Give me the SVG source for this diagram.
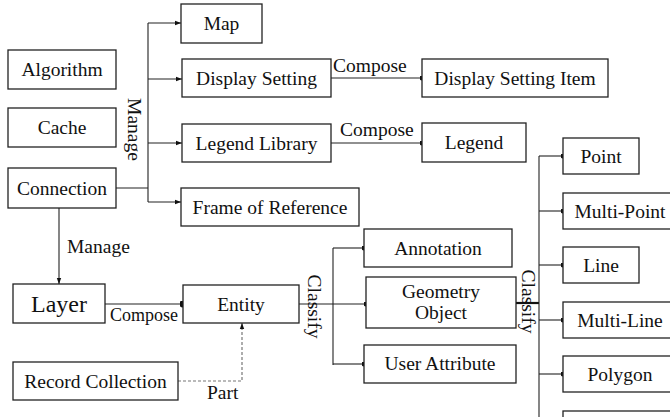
<svg xmlns="http://www.w3.org/2000/svg" width="670" height="417" viewBox="0 0 670 417">
<defs>
<style>
.box{fill:#fff;stroke:#222;stroke-width:1.3}
.t{font-family:"Liberation Serif","Times New Roman",serif;font-size:19.5px;fill:#111;text-anchor:middle}
.l{font-family:"Liberation Serif","Times New Roman",serif;font-size:19.5px;fill:#111}
.c{fill:none;stroke:#222;stroke-width:1.1}
.d{fill:none;stroke:#777;stroke-width:1.2;stroke-dasharray:3 2}
</style>
<marker id="arr" viewBox="0 0 6 6" refX="6" refY="3" markerWidth="6" markerHeight="6" markerUnits="userSpaceOnUse" orient="auto"><path d="M0,0.8 L6,3 L0,5.2 Z" fill="#111"/></marker>
<marker id="dot" viewBox="0 0 6 6" refX="3" refY="3" markerWidth="5" markerHeight="5" markerUnits="userSpaceOnUse"><circle cx="3" cy="3" r="3" fill="#111"/></marker>
<marker id="bdot" viewBox="0 0 6 6" refX="3" refY="3" markerWidth="7" markerHeight="7" markerUnits="userSpaceOnUse"><circle cx="3" cy="3" r="3" fill="#111"/></marker>
</defs>
<g id="connectors">
<path class="c" d="M116,188 H148 M148,23 V202"/>
<path class="c" d="M148,23 H181" marker-end="url(#arr)"/>
<path class="c" d="M148,79 H182" marker-end="url(#arr)"/>
<path class="c" d="M148,143 H182" marker-end="url(#arr)"/>
<path class="c" d="M148,202 H181" marker-end="url(#arr)"/>
<path class="c" d="M59,208 V284" marker-end="url(#arr)"/>
<path class="c" d="M331,78 H422" marker-end="url(#dot)"/>
<path class="c" d="M331,143 H422" marker-end="url(#dot)"/>
<path class="c" d="M105,304 H183" marker-end="url(#bdot)"/>
<path class="d" d="M178,381 H242 V323" marker-end="url(#arr)"/>
<path class="c" d="M299,304 H366" marker-end="url(#dot)"/>
<path class="c" d="M333,248 V365"/>
<path class="c" d="M333,248 H364" marker-end="url(#dot)"/>
<path class="c" d="M333,364 H364" marker-end="url(#dot)"/>
<path d="M516,303 H539" fill="none" stroke="#111" stroke-width="2.2"/>
<path class="c" d="M539,156 V417"/>
<path class="c" d="M539,156 H563" marker-end="url(#dot)"/>
<path class="c" d="M539,211 H563" marker-end="url(#dot)"/>
<path class="c" d="M539,265 H563" marker-end="url(#dot)"/>
<path class="c" d="M539,320 H563" marker-end="url(#dot)"/>
<path class="c" d="M539,374 H563" marker-end="url(#dot)"/>
<text class="l" transform="translate(128,129.5) rotate(90)" text-anchor="middle">Manage</text>
<text class="l" x="67" y="253">Manage</text>
<text class="l" x="333" y="72">Compose</text>
<text class="l" x="340" y="136">Compose</text>
<text class="l" x="110" y="321" style="font-size:18px">Compose</text>
<text class="l" x="207" y="399">Part</text>
<text class="l" transform="translate(308,306.5) rotate(90)" text-anchor="middle">Classify</text>
<text class="l" transform="translate(522,301.5) rotate(90)" text-anchor="middle">Classify</text>
</g>
<g id="algorithm"><rect class="box" x="8" y="50" width="108" height="39"/><text class="t" x="62" y="76">Algorithm</text></g>
<g id="cache"><rect class="box" x="8" y="108" width="108" height="39"/><text class="t" x="62" y="134">Cache</text></g>
<g id="connection"><rect class="box" x="8" y="168" width="108" height="40"/><text class="t" x="62" y="194.5">Connection</text></g>
<g id="map"><rect class="box" x="181" y="4" width="81" height="39"/><text class="t" x="221.5" y="30">Map</text></g>
<g id="display-setting"><rect class="box" x="182" y="59" width="149" height="38"/><text class="t" x="256.5" y="85">Display Setting</text></g>
<g id="legend-library"><rect class="box" x="182" y="124" width="149" height="38"/><text class="t" x="256.5" y="149.5">Legend Library</text></g>
<g id="frame-of-reference"><rect class="box" x="181" y="188" width="178" height="38"/><text class="t" x="270" y="213.5">Frame of Reference</text></g>
<g id="display-setting-item"><rect class="box" x="422" y="59" width="186" height="38"/><text class="t" x="515" y="85">Display Setting Item</text></g>
<g id="legend"><rect class="box" x="422" y="123" width="104" height="39"/><text class="t" x="474" y="149">Legend</text></g>
<g id="layer"><rect class="box" x="13" y="284" width="92" height="39"/><text class="t" x="59" y="312" style="font-size:24px">Layer</text></g>
<g id="entity"><rect class="box" x="183" y="285" width="116" height="38"/><text class="t" x="241" y="311">Entity</text></g>
<g id="record-collection"><rect class="box" x="13" y="362" width="165" height="38"/><text class="t" x="95.5" y="388">Record Collection</text></g>
<g id="annotation"><rect class="box" x="364" y="229" width="148" height="38"/><text class="t" x="438" y="254.5">Annotation</text></g>
<g id="geometry-object"><rect class="box" x="366" y="277" width="150" height="51"/><text class="t" x="441" y="298">Geometry</text><text class="t" x="441" y="319">Object</text></g>
<g id="user-attribute"><rect class="box" x="364" y="345" width="152" height="38"/><text class="t" x="440" y="370">User Attribute</text></g>
<g id="point"><rect class="box" x="563" y="138" width="76" height="36"/><text class="t" x="601" y="162.5">Point</text></g>
<g id="multi-point"><rect class="box" x="563" y="193" width="114" height="36"/><text class="t" x="620" y="217.5">Multi-Point</text></g>
<g id="line"><rect class="box" x="563" y="247" width="76" height="36"/><text class="t" x="601" y="271.5">Line</text></g>
<g id="multi-line"><rect class="box" x="563" y="302" width="114" height="36"/><text class="t" x="620" y="326.5">Multi-Line</text></g>
<g id="polygon"><rect class="box" x="563" y="356" width="114" height="36"/><text class="t" x="620" y="380.5">Polygon</text></g>
<g id="polygon-more"><rect class="box" x="563" y="411" width="114" height="36"/></g>
</svg>
